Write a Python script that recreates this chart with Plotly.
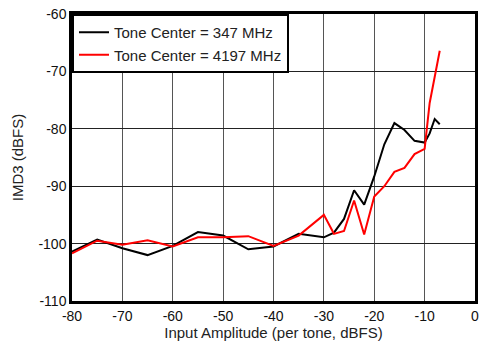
import plotly.graph_objects as go

# Tone Center = 347 MHz
amp_347 = [-80, -75, -70, -65, -60, -55, -50, -45, -40, -35, -30, -28, -26, -24, -22,
           -20, -18, -16, -14, -12, -10, -9, -8, -7]
imd3_347 = [-101.4, -99.3, -100.8, -102.0, -100.4, -98.0, -98.6, -101.0, -100.5, -98.3,
            -98.9, -98.1, -95.7, -90.7, -93.2, -88.3, -82.7, -79.0, -80.2, -82.1, -82.4,
            -80.8, -78.3, -79.2]

# Tone Center = 4197 MHz
amp_4197 = [-80, -75, -70, -65, -60, -55, -50, -45, -40, -35, -30, -28, -26, -24, -22,
            -20, -18, -16, -14, -12, -10, -9, -7]
imd3_4197 = [-101.7, -99.5, -100.2, -99.4, -100.5, -98.9, -98.9, -98.7, -100.4, -98.6,
             -95.0, -98.3, -97.8, -92.5, -98.4, -91.8, -90.0, -87.5, -86.8, -84.4, -83.5,
             -75.5, -66.4]

x_ticks = [-80, -70, -60, -50, -40, -30, -20, -10, 0]
x_labels = ["-80", "-70", "-60", "-50", "-40", "-30", "-20", "-10", "0"]
y_ticks = [-110, -100, -90, -80, -70, -60]
y_labels = ["-110", "-100", "-90", "-80", "-70", "-60"]

fig = go.Figure()
fig.add_trace(go.Scatter(x=amp_347, y=imd3_347, mode="lines", name="Tone Center = 347 MHz",
                         line=dict(color="black", width=2)))
fig.add_trace(go.Scatter(x=amp_4197, y=imd3_4197, mode="lines", name="Tone Center = 4197 MHz",
                         line=dict(color="#ff0000", width=2)))

axis_style = dict(
    showline=True, linecolor="black", linewidth=2.5, mirror=True,
    showgrid=True, gridwidth=1,
    zeroline=False, ticks="", tickfont=dict(size=14, color="#111"),
)

fig.update_layout(
    width=480, height=341,
    margin=dict(l=72, r=2, t=14, b=40),
    paper_bgcolor="white", plot_bgcolor="white",
    font=dict(family="Liberation Sans, Arial, sans-serif", size=15, color="#222"),
    xaxis=dict(range=[-80, 0], tickvals=x_ticks, ticktext=x_labels, gridcolor="#555555",
               title=dict(text="Input Amplitude (per tone, dBFS)", standoff=0,
                          font=dict(size=15)), **axis_style),
    yaxis=dict(range=[-110, -60], tickvals=y_ticks, ticktext=y_labels, gridcolor="#222222",
               title=dict(text="IMD3 (dBFS)", standoff=12, font=dict(size=15)), **axis_style),
    legend=dict(x=0, y=1, xanchor="left", yanchor="top", bgcolor="white",
                bordercolor="black", borderwidth=2, font=dict(size=15),
                tracegroupgap=0, itemwidth=30),
    showlegend=True,
)

fig.write_html("out.html", config={"displayModeBar": False},
               post_script="document.body.style.margin='0';")
